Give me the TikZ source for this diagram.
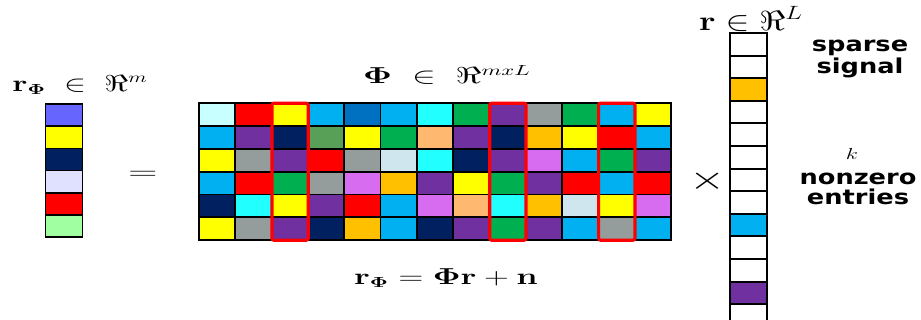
\documentclass[tikz,border=0pt]{standalone}
\usepackage[no-math]{fontspec}
\usepackage{amsmath}
\usepackage{amssymb}
\newfontfamily\signalfont{DejaVu Sans}
\definecolor{lcyn}{HTML}{C8FFFF}
\definecolor{cyn}{HTML}{22FFFF}
\definecolor{skyb}{HTML}{00B0F0}
\definecolor{mblu}{HTML}{0070C0}
\definecolor{navy}{HTML}{002060}
\definecolor{purp}{HTML}{7030A0}
\definecolor{grn}{HTML}{00B050}
\definecolor{mgrn}{HTML}{58A058}
\definecolor{gry}{HTML}{959C9C}
\definecolor{orng}{HTML}{FFC000}
\definecolor{lorng}{HTML}{FFB870}
\definecolor{viol}{HTML}{D86CF0}
\definecolor{lblu}{HTML}{D0E6EE}
\definecolor{yel}{HTML}{FFFF00}
\definecolor{rd}{HTML}{FF0000}
\definecolor{lavb}{HTML}{6666FF}
\definecolor{lavl}{HTML}{E0E0FF}
\definecolor{lgrn}{HTML}{A0FFA0}

\tikzset{
  cell/.style={draw=black, line width=1.4pt},
  colbox/.style={draw=rd, line width=2.4pt, rounded corners=1.5pt},
  mathlbl/.style={inner sep=0pt, font=\fontsize{16}{19}\selectfont},
  wordlbl/.style={inner sep=0pt, align=center, xscale=1.25,
    font=\signalfont\bfseries\fontsize{15.4}{14.5}\selectfont}
}

\begin{document}
\begin{tikzpicture}[x=0.75pt, y=-0.75pt]
    \useasboundingbox (0,0) rectangle (921,320);
    \clip (0,0) rectangle (921,320);

    % measured vector r_Phi
    \foreach \clr [count=\r] in {lavb,yel,navy,lavl,rd,lgrn}
        \path[cell, fill=\clr] (45.5,{104.3+(\r-1)*22.07}) rectangle ++(37,22.07);
    \node[mathlbl, xscale=1.43] (rphilbl) at (80,85) {$\mathbf{r}_{\mathbf{\Phi}} \;\in\; \Re^{m}$};
    \node[inner sep=0pt, font=\fontsize{19}{22}\selectfont, xscale=1.75] (eqsign) at (143,175) {$=$};

    % sensing matrix Phi
    \foreach \rowclrs [count=\r] in {
        {lcyn,rd,yel,skyb,mblu,skyb,cyn,grn,purp,gry,grn,skyb,yel},
        {skyb,purp,navy,mgrn,yel,grn,lorng,purp,navy,orng,yel,rd,skyb},
        {yel,gry,purp,rd,gry,lblu,cyn,navy,purp,viol,skyb,grn,purp},
        {skyb,rd,grn,gry,viol,orng,purp,yel,grn,purp,rd,skyb,rd},
        {navy,cyn,yel,purp,rd,skyb,viol,lorng,cyn,orng,lblu,yel,viol},
        {yel,gry,purp,navy,orng,skyb,navy,purp,grn,purp,skyb,gry,skyb}}
        \foreach \clr [count=\c] in \rowclrs
            \path[cell, fill=\clr] ({199+(\c-1)*36.3},{103.3+(\r-1)*22.8}) rectangle ++(36.3,22.8);
    \foreach \c in {3,9,12}
        \draw[colbox] ({199+(\c-1)*36.3+0.3},103.2) rectangle ++(36.3,137);
    \node[mathlbl, xscale=1.55] (philbl) at (447,75) {$\mathbf{\Phi} \;\in\; \Re^{mxL}$};
    \node[mathlbl, xscale=1.49] (modellbl) at (446,278) {$\mathbf{r}_{\mathbf{\Phi}} = \mathbf{\Phi}\mathbf{r} + \mathbf{n}$};

    % sparse signal r
    \node[inner sep=0pt, font=\fontsize{28}{32}\selectfont, xscale=1.4] (timessign) at (708,181) {$\times$};
    \foreach \clr [count=\r] in {white,white,orng,white,white,white,white,white,skyb,white,white,purp,white}
        \path[cell, fill=\clr] (730,{33+(\r-1)*22.6}) rectangle ++(37,22.6);
    \node[inner sep=0pt, font=\fontsize{20}{23}\selectfont, xscale=1.3] (rlbl) at (751,19) {$\mathbf{r} \in \Re^{L}$};
    \node[wordlbl] (sparselbl) at (860,59) {sparse\\signal};
    \node[inner sep=0pt, font=\fontsize{12}{14}\selectfont, xscale=1.4] (klbl) at (852,154) {$k$};
    \node[wordlbl] (nonzerolbl) at (858,189) {nonzero\\entries};
\end{tikzpicture}
\end{document}
